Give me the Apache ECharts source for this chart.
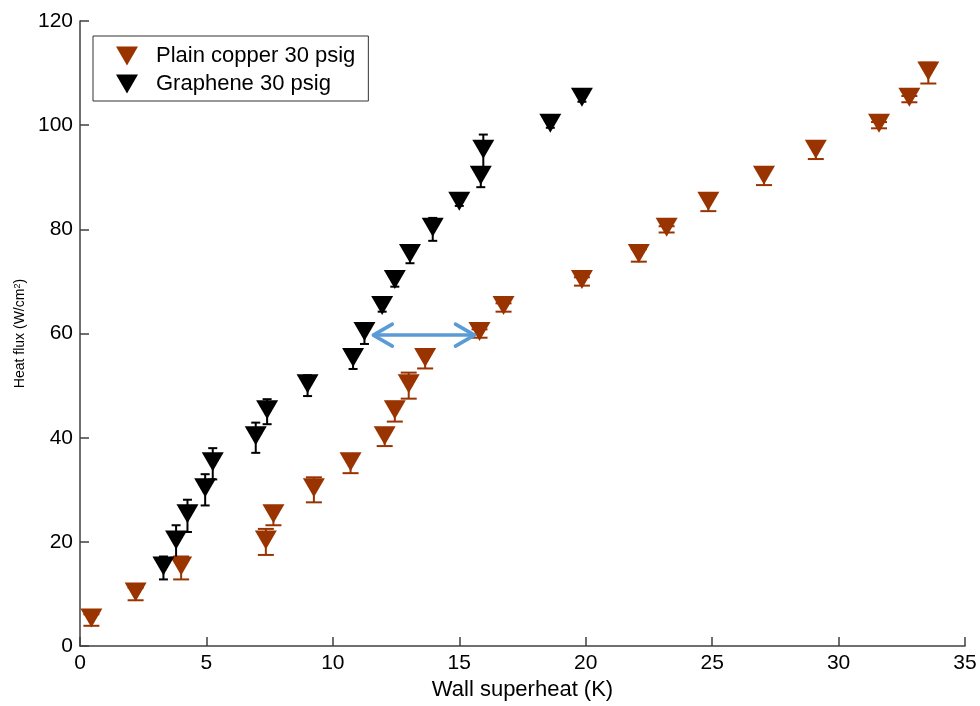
<!DOCTYPE html>
<html>
<head>
<meta charset="utf-8">
<script src="https://cdn.jsdelivr.net/npm/echarts@6/dist/echarts.min.js"></script>
<style>
  html, body { margin: 0; padding: 0; background: #fff; }
  #chart { width: 980px; height: 706px; }
</style>
</head>
<body>
<div id="chart"></div>
<script>
// Pool boiling curves: wall superheat (K) vs heat flux (W/cm^2)
const copperX = [0.45, 2.2, 4.0, 7.35, 7.65, 9.25, 10.7, 12.05, 12.45, 13.0, 13.65,
                 15.8, 16.75, 19.85, 22.1, 23.2, 24.85, 27.05, 29.1, 31.6, 32.8, 33.55];
const copperY = [5, 10, 15, 20, 25, 30, 35, 40, 45, 50, 55,
                 60, 65, 70, 75, 80, 85, 90, 95, 100, 105, 110];
const copperErr = [1.1, 1.2, 2.2, 2.5, 1.8, 2.4, 1.8, 1.6, 1.9, 2.5, 1.7,
                   0.8, 0.8, 0.8, 1.2, 0.6, 1.5, 1.5, 1.5, 0.6, 0.6, 2.0];

const grapheneX = [3.3, 3.8, 4.25, 4.95, 5.25, 6.95, 7.4, 9.0, 10.8, 11.25, 11.95,
                   12.45, 13.05, 13.95, 15.0, 15.85, 15.95, 18.6, 19.85];
const grapheneY = [15, 20, 25, 30, 35, 40, 45, 50, 55, 60, 65,
                   70, 75, 80, 85, 90, 95, 100, 105];
const grapheneErr = [2.2, 3.2, 3.1, 3.0, 3.0, 2.9, 2.4, 2.0, 1.8, 2.0, 0.8,
                     1.0, 1.5, 2.2, 0.5, 1.9, 3.2, 0.5, 0.5];

// Double-headed arrow comparing the two surfaces at 60 W/cm^2
const arrowFrom = [11.6, 59.7];
const arrowTo = [15.6, 59.7];

const xTicks = { min: 0, max: 35, interval: 5 };
const yTicks = { min: 0, max: 120, interval: 20 };

const seriesNames = ['Plain copper 30 psig', 'Graphene 30 psig'];
const COPPER = '#993300';
const GRAPHENE = '#000000';
const FONT = '"Liberation Sans", Arial, sans-serif';
const DOWN_TRIANGLE = 'path://M0,0L22,0L11,19Z';

function errorData(xs, ys, errs) {
  return xs.map((x, i) => [x, ys[i] - errs[i], ys[i] + errs[i]]);
}
function pointData(xs, ys) {
  return xs.map((x, i) => [x, ys[i]]);
}

function errorBarRenderer(color, capHalf) {
  return function (params, api) {
    const x = api.value(0);
    const lo = api.coord([x, api.value(1)]);
    const hi = api.coord([x, api.value(2)]);
    const style = { stroke: color, lineWidth: 2 };
    return {
      type: 'group',
      children: [
        { type: 'line', shape: { x1: hi[0], y1: hi[1], x2: lo[0], y2: lo[1] }, style },
        { type: 'line', shape: { x1: hi[0] - capHalf, y1: hi[1], x2: hi[0] + capHalf, y2: hi[1] }, style },
        { type: 'line', shape: { x1: lo[0] - capHalf, y1: lo[1], x2: lo[0] + capHalf, y2: lo[1] }, style }
      ]
    };
  };
}

function arrowRenderer(params, api) {
  const a = api.coord([api.value(0), api.value(1)]);
  const b = api.coord([api.value(2), api.value(3)]);
  const style = { stroke: '#5B9BD5', lineWidth: 3.5, lineCap: 'round', lineJoin: 'round', fill: null };
  const headLen = 19, headHalf = 11;
  return {
    type: 'group',
    children: [
      { type: 'line', shape: { x1: a[0] + 2, y1: a[1], x2: b[0] - 2, y2: b[1] }, style },
      { type: 'polyline', shape: { points: [[a[0] + headLen, a[1] - headHalf], [a[0], a[1]], [a[0] + headLen, a[1] + headHalf]] }, style },
      { type: 'polyline', shape: { points: [[b[0] - headLen, b[1] - headHalf], [b[0], b[1]], [b[0] - headLen, b[1] + headHalf]] }, style }
    ]
  };
}

const axisLineStyle = { color: '#404040', width: 1.5 };

const chart = echarts.init(document.getElementById('chart'), null, { renderer: 'canvas' });
chart.setOption({
  animation: false,
  backgroundColor: '#ffffff',
  textStyle: { fontFamily: FONT },
  grid: { left: 80, right: 15, top: 21, bottom: 59, containLabel: false },
  legend: {
    data: seriesNames,
    orient: 'vertical',
    left: 93,
    top: 36,
    padding: [8, 13, 5, 23],
    itemGap: 4,
    itemWidth: 22,
    itemHeight: 19,
    icon: DOWN_TRIANGLE,
    symbolRotate: 0,
    borderColor: '#333333',
    borderWidth: 1,
    backgroundColor: '#ffffff',
    textStyle: { fontFamily: FONT, fontSize: 22, color: '#000', lineHeight: 24, padding: [0, 0, 0, 13] },
    selectedMode: false
  },
  xAxis: {
    type: 'value',
    min: xTicks.min, max: xTicks.max, interval: xTicks.interval,
    name: 'Wall superheat (K)',
    nameLocation: 'middle',
    nameGap: 30,
    nameTextStyle: { fontFamily: FONT, fontSize: 22, color: '#000' },
    axisLine: { show: true, onZero: false, lineStyle: axisLineStyle },
    axisTick: { show: true, inside: true, length: 9, lineStyle: axisLineStyle },
    axisLabel: { fontFamily: FONT, fontSize: 21, color: '#000', margin: 7 },
    splitLine: { show: false }
  },
  yAxis: {
    type: 'value',
    min: yTicks.min, max: yTicks.max, interval: yTicks.interval,
    name: 'Heat flux (W/cm{sup|2})',
    nameLocation: 'middle',
    nameGap: 52,
    nameRotate: 90,
    nameTextStyle: {
      fontFamily: FONT, fontSize: 14, color: '#000',
      rich: { sup: { fontFamily: FONT, fontSize: 9, color: '#000', verticalAlign: 'top', padding: [0, 0, 6, 0] } }
    },
    axisLine: { show: true, onZero: false, lineStyle: axisLineStyle },
    axisTick: { show: true, inside: true, length: 9, lineStyle: axisLineStyle },
    axisLabel: { fontFamily: FONT, fontSize: 21, color: '#000', margin: 7 },
    splitLine: { show: false }
  },
  series: [
    {
      name: 'copper-errors',
      type: 'custom',
      silent: true,
      renderItem: errorBarRenderer(COPPER, 8),
      encode: { x: 0, y: [1, 2] },
      data: errorData(copperX, copperY, copperErr),
      z: 2
    },
    {
      name: 'graphene-errors',
      type: 'custom',
      silent: true,
      renderItem: errorBarRenderer(GRAPHENE, 4.5),
      encode: { x: 0, y: [1, 2] },
      data: errorData(grapheneX, grapheneY, grapheneErr),
      z: 2
    },
    {
      name: seriesNames[0],
      type: 'scatter',
      symbol: 'triangle',
      symbolRotate: 180,
      symbolSize: [22, 19],
      symbolOffset: [0, -2],
      itemStyle: { color: COPPER, opacity: 1 },
      data: pointData(copperX, copperY),
      z: 3
    },
    {
      name: seriesNames[1],
      type: 'scatter',
      symbol: 'triangle',
      symbolRotate: 180,
      symbolSize: [22, 19],
      symbolOffset: [0, -2],
      itemStyle: { color: GRAPHENE, opacity: 1 },
      data: pointData(grapheneX, grapheneY),
      z: 3
    },
    {
      name: 'arrow',
      type: 'custom',
      silent: true,
      renderItem: arrowRenderer,
      encode: { x: [0, 2], y: [1, 3] },
      data: [[arrowFrom[0], arrowFrom[1], arrowTo[0], arrowTo[1]]],
      z: 5
    }
  ]
});
</script>
</body>
</html>
